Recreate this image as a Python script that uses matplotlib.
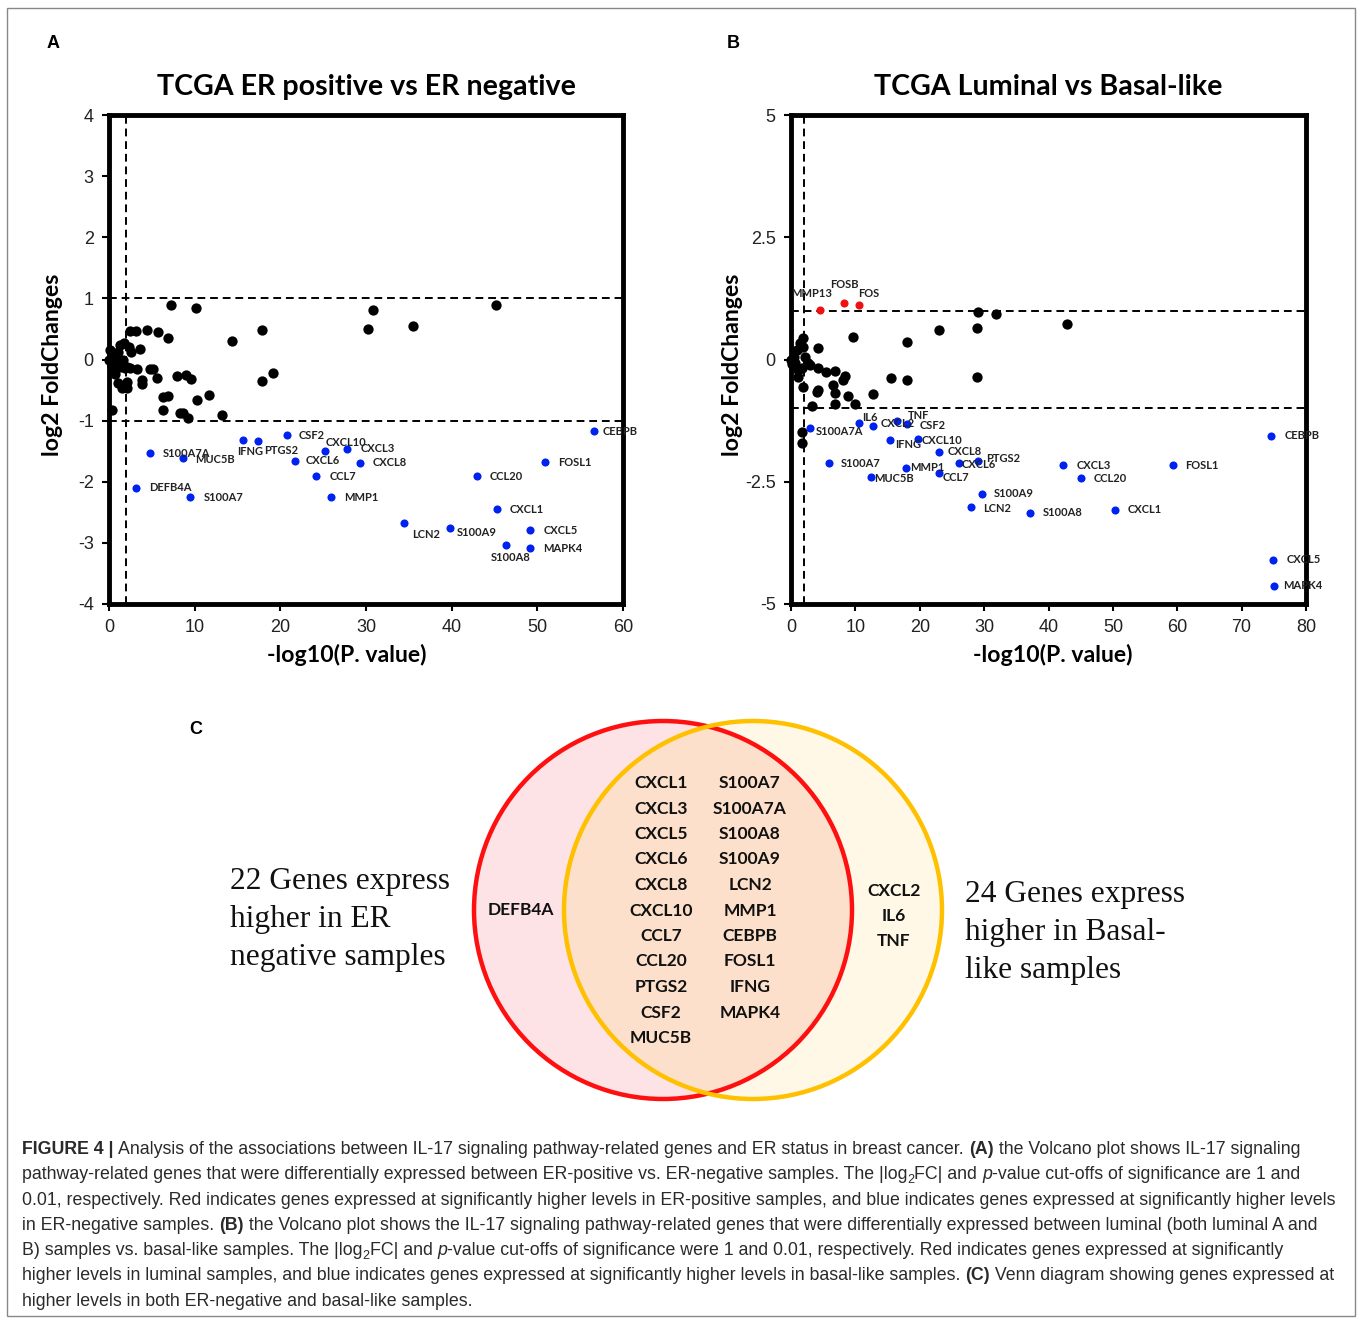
import numpy as np
import matplotlib.pyplot as plt
from matplotlib.patches import Circle, Rectangle

# ---------------- data ----------------
# Panel A: TCGA ER positive vs ER negative
a_ns_x = [7.2, 10.2, 17.9, 14.4, 19.1, 17.9, 13.2, 11.7, 10.3, 9.2, 8.6, 8.3, 6.3, 6.3, 6.9, 7.9,
          9.0, 9.6, 6.9, 5.7, 4.4, 3.2, 2.5, 0.35, 3.6, 4.8, 5.1, 5.6, 3.8, 3.8, 3.3, 2.5, 2.1, 2.1,
          2.1, 1.5, 1.1, 0.7, 2.6, 2.3, 1.7, 1.3, 1.3, 1.9, 30.8, 30.2, 35.5, 45.2,
          0.1, 0.0, 0.5, 1.0, 0.7, 1.6, 0.3, 0.9]
a_ns_y = [0.89, 0.85, 0.48, 0.30, -0.22, -0.35, -0.91, -0.58, -0.67, -0.95, -0.87, -0.88, -0.83,
          -0.62, -0.59, -0.27, -0.25, -0.32, 0.35, 0.45, 0.48, 0.47, 0.47, -0.82, 0.17, -0.16,
          -0.16, -0.31, -0.34, -0.40, -0.16, -0.14, -0.12, -0.36, -0.47, -0.46, -0.39, -0.23,
          0.13, 0.21, 0.27, 0.24, -0.12, -0.14, 0.81, 0.50, 0.55, 0.89,
          0.16, 0.0, 0.07, 0.13, -0.06, 0.0, -0.1, 0.02]
a_genes = ["CEBPB", "S100A7A", "MUC5B", "IFNG", "PTGS2", "CSF2", "CXCL10", "CXCL3", "CXCL6",
           "CXCL8", "CCL7", "MMP1", "DEFB4A", "S100A7", "CCL20", "FOSL1", "CXCL1", "LCN2",
           "S100A9", "CXCL5", "MAPK4", "S100A8"]
a_down_x = [56.6, 4.8, 8.6, 15.6, 17.4, 20.8, 25.2, 27.8, 21.7, 29.3, 24.2, 25.9, 3.2, 9.5,
            42.9, 50.9, 45.3, 34.4, 39.8, 49.2, 49.2, 46.3]
a_down_y = [-1.17, -1.53, -1.61, -1.32, -1.33, -1.24, -1.50, -1.46, -1.66, -1.69, -1.91, -2.25,
            -2.10, -2.25, -1.91, -1.68, -2.45, -2.68, -2.75, -2.79, -3.09, -3.04]
# label offsets in pixels (dx, dy, ha)
a_offsets = [(9, 0, "left"), (13, 0, "left"), (12, -2, "left"), (-6, -11, "left"),
             (6, -10, "left"), (11, 0, "left"), (1, 9, "left"), (13, 0, "left"),
             (11, 0, "left"), (13, 0, "left"), (13, 0, "left"), (13, 0, "left"),
             (13, 0, "left"), (13, 0, "left"), (13, 0, "left"), (13, 0, "left"),
             (13, 0, "left"), (8, -11, "left"), (7, -5, "left"), (13, 0, "left"),
             (13, 0, "left"), (-15, -12, "left")]

# Panel B: TCGA Luminal vs Basal-like
b_ns_x = [29.0, 31.8, 28.9, 23.0, 42.9, 18.0, 18.0, 28.9, 9.6, 15.5, 12.8, 9.9, 8.9, 6.8, 3.2,
          6.8, 6.5, 8.1, 8.4, 6.8, 5.5, 4.2, 4.0, 4.2, 1.9, 1.1, 4.2, 1.9, 3.0, 1.7, 1.7,
          1.4, 0.9, 0.4, 0.0, 0.6, 2.2, 2.7, 1.7, 0.2, 1.9, 1.1]
b_ns_y = [0.97, 0.93, 0.64, 0.60, 0.72, 0.36, -0.42, -0.35, 0.46, -0.37, -0.71, -0.90, -0.74,
          -0.90, -0.95, -0.69, -0.53, -0.41, -0.34, -0.24, -0.26, -0.18, -0.66, -0.62, -0.56,
          -0.35, 0.24, 0.43, -0.11, -1.48, -1.71,
          0.33, 0.19, 0.06, 0.0, -0.08, 0.06, -0.08, -0.18, -0.1, 0.26, -0.21]
b_up_genes = ["MMP13", "FOSB", "FOS"]
b_up_x = [4.5, 8.3, 10.6]
b_up_y = [1.01, 1.16, 1.11]
b_up_offsets = [(-8, 17, "center"), (0, 18, "center"), (-1, 12, "left")]
b_genes = ["S100A7A", "IL6", "CXCL2", "TNF", "CSF2", "IFNG", "CXCL10", "CXCL8", "PTGS2", "CXCL6",
           "MMP1", "CCL7", "MUC5B", "S100A7", "S100A9", "LCN2", "S100A8", "CXCL3", "CCL20",
           "FOSL1", "CXCL1", "CEBPB", "CXCL5", "MAPK4"]
b_down_x = [2.95, 10.6, 12.8, 16.4, 18.0, 15.4, 19.7, 23.0, 29.0, 26.1, 17.9, 23.0, 12.4, 5.9,
            29.7, 27.9, 37.1, 42.3, 45.1, 59.4, 50.3, 74.6, 74.9, 75.0]
b_down_y = [-1.41, -1.30, -1.35, -1.26, -1.32, -1.65, -1.63, -1.89, -2.07, -2.11, -2.22, -2.33,
            -2.41, -2.12, -2.75, -3.02, -3.13, -2.16, -2.43, -2.16, -3.07, -1.56, -4.10, -4.63]
b_offsets = [(6, -3, "left"), (3, 6, "left"), (7, 2, "left"), (11, 6, "left"), (13, -1, "left"),
             (5, -4, "left"), (4, -1, "left"), (9, 0, "left"), (8, 2, "left"), (3, -2, "left"),
             (4, 1, "left"), (4, -4, "left"), (3, -1, "left"), (12, 0, "left"),
             (12, 0, "left"), (13, -1, "left"), (13, 0, "left"), (13, 0, "left"),
             (12, 0, "left"), (12, 0, "left"), (13, 0, "left"), (13, 0, "left"),
             (13, 0, "left"), (9, 0, "left")]

# Panel C: Venn diagram
venn_both_1 = ["CXCL1", "CXCL3", "CXCL5", "CXCL6", "CXCL8", "CXCL10", "CCL7", "CCL20", "PTGS2",
               "CSF2", "MUC5B"]
venn_both_2 = ["S100A7", "S100A7A", "S100A8", "S100A9", "LCN2", "MMP1", "CEBPB", "FOSL1", "IFNG",
               "MAPK4"]
venn_er_only = ["DEFB4A"]
venn_basal_only = ["CXCL2", "IL6", "TNF"]
left_note = ["22 Genes express", "higher in ER", "negative samples"]
right_note = ["24 Genes express", "higher in Basal-", "like samples"]

W, H = 1360, 1319
fig = plt.figure(figsize=(W / 100, H / 100), dpi=100)
bg = fig.add_axes([0, 0, 1, 1])
bg.set_xlim(0, W)
bg.set_ylim(H, 0)
bg.axis("off")

SANS = ["Liberation Sans", "DejaVu Sans"]
CAL = ["Lato", "DejaVu Sans"]


def volcano(ax, ns_x, ns_y, dn_x, dn_y, genes, offs, xmax, yticks, title):
    ax.scatter(ns_x, ns_y, s=55, color="black", zorder=3, clip_on=False, linewidths=0)
    ax.scatter(dn_x, dn_y, s=34, color="#0022ee", zorder=3, clip_on=False, linewidths=0)
    for g, x, y, (dx, dy, ha) in zip(genes, dn_x, dn_y, offs):
        ax.annotate(g, (x, y), xytext=(dx, dy), textcoords="offset pixels", ha=ha,
                    va="center", fontsize=8, fontweight="bold", family=CAL, color="#222222")
    ax.axhline(1, color="black", lw=1.4, ls=(0, (4, 2.5)), zorder=1)
    ax.axhline(-1, color="black", lw=1.4, ls=(0, (4, 2.5)), zorder=1)
    ax.axvline(2, color="black", lw=1.4, ls=(0, (4, 2.5)), zorder=1)
    ax.set_xlim(0, xmax)
    ax.set_ylim(yticks[-1], yticks[0])
    ax.set_yticks(yticks)
    ax.set_xticks(np.arange(0, xmax + 1, 10))
    for sp in ax.spines.values():
        sp.set_linewidth(3.5)
    ax.tick_params(direction="out", length=5, width=1.5, labelsize=13)
    ax.tick_params(axis="x", pad=6)
    ax.tick_params(axis="y", pad=6)
    for lab in ax.get_xticklabels() + ax.get_yticklabels():
        lab.set_family(SANS)
        lab.set_color("#222222")
    ax.set_title(title, fontsize=20.6, fontweight="bold", family=CAL, y=1.058, va="center", pad=0)
    ax.set_xlabel("-log10(P. value)", fontsize=16.6, fontweight="bold", family=CAL, va="center")
    ax.set_ylabel("log2 FoldChanges", fontsize=16.6, fontweight="bold", family=CAL, va="center")


axA = fig.add_axes([109 / W, (H - 604) / H, 514 / W, 489 / H])
volcano(axA, a_ns_x, a_ns_y, a_down_x, a_down_y, a_genes, a_offsets, 60,
        [4, 3, 2, 1, 0, -1, -2, -3, -4], "TCGA ER positive vs ER negative")
axA.set_yticklabels(["4", "3", "2", "1", "0", "-1", "-2", "-3", "-4"])
axA.xaxis.set_label_coords(0.463, -0.104)
axA.yaxis.set_label_coords(-0.109, 0.49)

axB = fig.add_axes([791 / W, (H - 604) / H, 515 / W, 489 / H])
volcano(axB, b_ns_x, b_ns_y, b_down_x, b_down_y, b_genes, b_offsets, 80,
        [5, 2.5, 0, -2.5, -5], "TCGA Luminal vs Basal-like")
axB.set_yticklabels(["5", "2.5", "0", "-2.5", "-5"])
axB.scatter(b_up_x, b_up_y, s=34, color="#ee1111", zorder=3, linewidths=0)
for g, x, y, (dx, dy, ha) in zip(b_up_genes, b_up_x, b_up_y, b_up_offsets):
    axB.annotate(g, (x, y), xytext=(dx, dy), textcoords="offset pixels", ha=ha, va="center",
                 fontsize=8, fontweight="bold", family=CAL, color="#222222")
axB.xaxis.set_label_coords(0.509, -0.104)
axB.yaxis.set_label_coords(-0.113, 0.49)

# panel letters
for lx, ly, s in [(53, 43, "A"), (733, 43, "B"), (196, 729, "C")]:
    bg.text(lx, ly, s, fontsize=13, fontweight="bold", family=SANS, ha="center", va="center")

# ---------------- Venn ----------------
red_c = (663, 910)
yel_c = (753, 910)
R = 189
bg.add_patch(Circle(red_c, R, facecolor="#fde3e6", edgecolor="none", zorder=1))
bg.add_patch(Circle(yel_c, R, facecolor="#fff8e6", edgecolor="none", zorder=1))
clip_c = Circle(yel_c, R, transform=bg.transData, facecolor="none", edgecolor="none")
inter = Circle(red_c, R, facecolor="#fde0cb", edgecolor="none", zorder=1.5)
bg.add_patch(inter)
inter.set_clip_path(clip_c)
bg.add_patch(Circle(red_c, R, facecolor="none", edgecolor="#ff1010", lw=3.2, zorder=2))
bg.add_patch(Circle(yel_c, R, facecolor="none", edgecolor="#ffc000", lw=3.2, zorder=2.1))

vk = dict(fontsize=12.5, fontweight="bold", family=CAL, ha="center", va="center",
          color="#111111", zorder=3)
for i, g in enumerate(venn_both_1):
    bg.text(661, 783 + i * 25.5, g, **vk)
for i, g in enumerate(venn_both_2):
    bg.text(750, 783 + i * 25.5, g, **vk)
for i, g in enumerate(venn_er_only):
    bg.text(521, 910 + i * 25, g, **vk)
for i, g in enumerate(venn_basal_only):
    bg.text(894, 891 + i * 25, g, **vk)

SERIF = ["Liberation Serif", "DejaVu Serif"]
for i, s in enumerate(left_note):
    bg.text(230, 889 + i * 38, s, fontsize=22.6, family=SERIF, ha="left", va="baseline",
            color="#111111")
for i, s in enumerate(right_note):
    bg.text(965, 902 + i * 38, s, fontsize=22.6, family=SERIF, ha="left", va="baseline",
            color="#111111")

# ---------------- frame + caption ----------------
bg.add_patch(Rectangle((7, 8), 1348, 1308, facecolor="none", edgecolor="#888888", lw=1.0))

renderer = fig.canvas.get_renderer()
CAP = dict(fontsize=12.75, family=SANS, color="#2a2a2a", va="baseline", ha="left")


def caption_line(x, y, parts):
    for s, kind in parts:
        kw = dict(CAP)
        yy = y
        if kind == "b":
            kw["fontweight"] = "bold"
        elif kind == "i":
            kw["fontstyle"] = "italic"
        elif kind == "sub":
            kw["fontsize"] = 9
            yy = y + 4
        t = bg.text(x, yy, s, **kw)
        x += t.get_window_extent(renderer=renderer).width


cap_lines = [
    [("FIGURE 4 | ", "b"), ("Analysis of the associations between IL-17 signaling pathway-related "
                            "genes and ER status in breast cancer. ", "n"), ("(A)", "b"),
     (" the Volcano plot shows IL-17 signaling", "n")],
    [("pathway-related genes that were differentially expressed between ER-positive vs. "
      "ER-negative samples. The |log", "n"), ("2", "sub"), ("FC| and ", "n"), ("p", "i"),
     ("-value cut-offs of significance are 1 and", "n")],
    [("0.01, respectively. Red indicates genes expressed at significantly higher levels in "
      "ER-positive samples, and blue indicates genes expressed at significantly higher levels",
      "n")],
    [("in ER-negative samples. ", "n"), ("(B)", "b"),
     (" the Volcano plot shows the IL-17 signaling pathway-related genes that were differentially "
      "expressed between luminal (both luminal A and", "n")],
    [("B) samples vs. basal-like samples. The |log", "n"), ("2", "sub"), ("FC| and ", "n"),
     ("p", "i"), ("-value cut-offs of significance were 1 and 0.01, respectively. Red indicates "
                  "genes expressed at significantly", "n")],
    [("higher levels in luminal samples, and blue indicates genes expressed at significantly "
      "higher levels in basal-like samples. ", "n"), ("(C)", "b"),
     (" Venn diagram showing genes expressed at", "n")],
    [("higher levels in both ER-negative and basal-like samples.", "n")],
]
for i, parts in enumerate(cap_lines):
    caption_line(22, 1154 + i * 25.3, parts)

fig.savefig("out.png", dpi=100)
